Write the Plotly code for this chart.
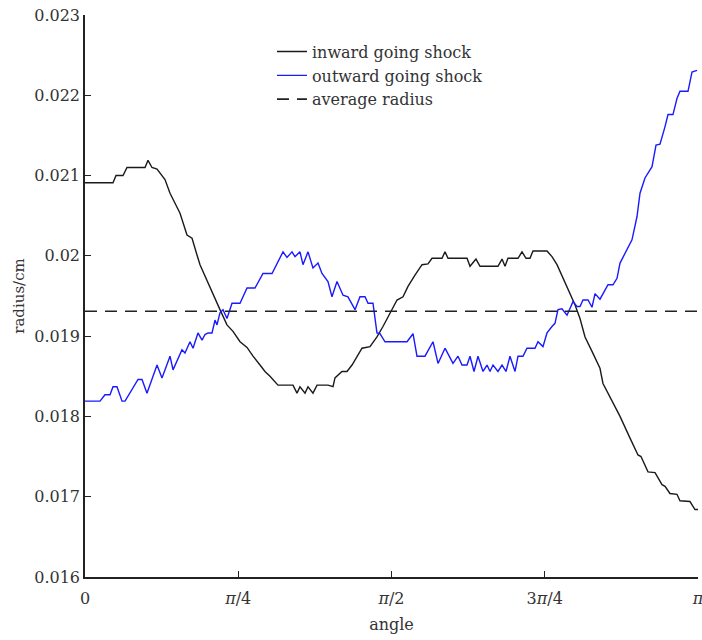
import numpy as np
import plotly.graph_objects as go

# angle given as a fraction of pi
inward_angle_frac = [0, 0.0457, 0.0506, 0.0620, 0.0685, 0.0979, 0.1028, 0.1093, 0.1175, 0.1256,
    0.1305, 0.1387, 0.1550, 0.1664, 0.1746, 0.1827, 0.1876, 0.2202, 0.2316, 0.2414,
    0.2529, 0.2643, 0.2741, 0.2855, 0.2936, 0.3018, 0.3148, 0.3393, 0.3458, 0.3507,
    0.3589, 0.3638, 0.3719, 0.3785, 0.3964, 0.4046, 0.4078, 0.4192, 0.4274, 0.4356,
    0.4437, 0.4519, 0.4649, 0.4763, 0.4861, 0.4976, 0.5090, 0.5188, 0.5269, 0.5383,
    0.5498, 0.5595, 0.5661, 0.5824, 0.5873, 0.5922, 0.6232, 0.6281, 0.6378, 0.6444,
    0.6737, 0.6803, 0.6852, 0.6900, 0.7064, 0.7129, 0.7194, 0.7259, 0.7308, 0.7537,
    0.7618, 0.7700, 0.7798, 0.7912, 0.7993, 0.8075, 0.8157, 0.8271, 0.8401, 0.8450,
    0.8564, 0.8728, 0.8891, 0.9021, 0.9070, 0.9184, 0.9299, 0.9413, 0.9462, 0.9543,
    0.9657, 0.9706, 0.9869, 0.9951, 1.0]
inward_radius = [0.02091, 0.02091, 0.02100, 0.02100, 0.02110, 0.02110, 0.02119, 0.02110, 0.02108, 0.02100,
    0.02095, 0.02078, 0.02053, 0.02026, 0.02022, 0.02001, 0.01989, 0.01933, 0.01914, 0.01906,
    0.01893, 0.01886, 0.01875, 0.01864, 0.01856, 0.01850, 0.01839, 0.01839, 0.01829, 0.01837,
    0.01829, 0.01837, 0.01829, 0.01839, 0.01839, 0.01837, 0.01848, 0.01856, 0.01856, 0.01864,
    0.01875, 0.01885, 0.01887, 0.01899, 0.01912, 0.01929, 0.01945, 0.01949, 0.01962, 0.01976,
    0.01989, 0.01990, 0.01997, 0.01997, 0.02005, 0.01997, 0.01997, 0.01987, 0.01996, 0.01987,
    0.01987, 0.01996, 0.01987, 0.01997, 0.01997, 0.02005, 0.01997, 0.01997, 0.02006, 0.02006,
    0.01999, 0.01989, 0.01972, 0.01953, 0.01939, 0.01922, 0.01899, 0.01881, 0.01860, 0.01841,
    0.01825, 0.01800, 0.01773, 0.01752, 0.01750, 0.01731, 0.01730, 0.01715, 0.01713, 0.01704,
    0.01703, 0.01695, 0.01694, 0.01684, 0.01684]

outward_angle_frac = [0, 0.0245, 0.0326, 0.0408, 0.0457, 0.0522, 0.0604, 0.0653, 0.0865, 0.0930,
    0.1011, 0.1175, 0.1256, 0.1387, 0.1436, 0.1582, 0.1631, 0.1713, 0.1762, 0.1843,
    0.1909, 0.1958, 0.2007, 0.2072, 0.2121, 0.2153, 0.2202, 0.2251, 0.2316, 0.2398,
    0.2529, 0.2643, 0.2773, 0.2904, 0.3051, 0.3230, 0.3295, 0.3377, 0.3426, 0.3507,
    0.3556, 0.3638, 0.3719, 0.3801, 0.3866, 0.3964, 0.4029, 0.4111, 0.4209, 0.4290,
    0.4405, 0.4486, 0.4568, 0.4617, 0.4698, 0.4763, 0.4812, 0.4894, 0.5253, 0.5351,
    0.5416, 0.5546, 0.5677, 0.5759, 0.5873, 0.6003, 0.6085, 0.6150, 0.6232, 0.6281,
    0.6346, 0.6411, 0.6493, 0.6558, 0.6607, 0.6656, 0.6737, 0.6803, 0.6868, 0.6933,
    0.7015, 0.7064, 0.7145, 0.7210, 0.7341, 0.7390, 0.7471, 0.7537, 0.7618, 0.7667,
    0.7716, 0.7781, 0.7863, 0.7961, 0.8026, 0.8075, 0.8124, 0.8206, 0.8271, 0.8320,
    0.8401, 0.8483, 0.8532, 0.8613, 0.8679, 0.8728, 0.8842, 0.8923, 0.9005, 0.9054,
    0.9135, 0.9250, 0.9315, 0.9380, 0.9462, 0.9511, 0.9592, 0.9657, 0.9706, 0.9837,
    0.9902, 0.9984]
outward_radius = [0.01819, 0.01819, 0.01827, 0.01827, 0.01837, 0.01837, 0.01819, 0.01819, 0.01846, 0.01846,
    0.01829, 0.01864, 0.01848, 0.01875, 0.01858, 0.01883, 0.01879, 0.01893, 0.01885, 0.01904,
    0.01895, 0.01902, 0.01904, 0.01904, 0.01920, 0.01914, 0.01929, 0.01933, 0.01922, 0.01941,
    0.01941, 0.01960, 0.01960, 0.01978, 0.01978, 0.02005, 0.01998, 0.02005, 0.01999, 0.02005,
    0.01989, 0.02005, 0.01985, 0.01991, 0.01978, 0.01968, 0.01949, 0.01968, 0.01951, 0.01949,
    0.01933, 0.01949, 0.01949, 0.01941, 0.01941, 0.01904, 0.01903, 0.01893, 0.01893, 0.01903,
    0.01875, 0.01875, 0.01893, 0.01866, 0.01885, 0.01866, 0.01875, 0.01864, 0.01864, 0.01875,
    0.01856, 0.01875, 0.01856, 0.01864, 0.01856, 0.01864, 0.01856, 0.01864, 0.01856, 0.01875,
    0.01856, 0.01875, 0.01875, 0.01885, 0.01885, 0.01893, 0.01887, 0.01904, 0.01912, 0.01916,
    0.01933, 0.01934, 0.01926, 0.01943, 0.01937, 0.01937, 0.01945, 0.01945, 0.01936, 0.01953,
    0.01946, 0.01958, 0.01964, 0.01964, 0.01972, 0.01991, 0.02007, 0.02020, 0.02049, 0.02078,
    0.02097, 0.02111, 0.02138, 0.02139, 0.02161, 0.02176, 0.02176, 0.02196, 0.02205, 0.02205,
    0.02229, 0.02231]

average_radius = 0.01931

x_tick_frac = [0, 0.25, 0.5, 0.75, 1.0]
x_tick_text = ["0", "<i>π</i>/4", "<i>π</i>/2", "3<i>π</i>/4", "<i>π</i>"]
y_tick_vals = [0.016, 0.017, 0.018, 0.019, 0.020, 0.021, 0.022, 0.023]
y_tick_text = ["0.016", "0.017", "0.018", "0.019", "0.02", "0.021", "0.022", "0.023"]

FONT = "DejaVu Serif"
TXT = "#333333"

fig = go.Figure()
fig.add_trace(go.Scatter(
    x=np.array(inward_angle_frac) * np.pi, y=inward_radius, mode="lines",
    name="inward going shock", line=dict(color="#1a1a1a", width=1.4)))
fig.add_trace(go.Scatter(
    x=np.array(outward_angle_frac) * np.pi, y=outward_radius, mode="lines",
    name="outward going shock", line=dict(color="#1a1aff", width=1.4)))
fig.add_trace(go.Scatter(
    x=[0, np.pi], y=[average_radius, average_radius], mode="lines",
    name="average radius", line=dict(color="#222222", width=1.6, dash="12px,8px")))

fig.update_layout(
    width=702, height=640,
    margin=dict(l=85, r=4, t=15, b=63),
    paper_bgcolor="white", plot_bgcolor="white",
    font=dict(family=FONT, size=16, color=TXT),
    showlegend=True,
    legend=dict(x=0.305, y=0.965, xanchor="left", yanchor="top",
                bgcolor="rgba(0,0,0,0)", font=dict(family=FONT, size=16, color=TXT),
                tracegroupgap=0, itemwidth=30),
    xaxis=dict(range=[0, np.pi], tickvals=[v * np.pi for v in x_tick_frac], ticktext=x_tick_text,
               showgrid=False, zeroline=False, showline=True, linecolor="#222222", linewidth=1.5,
               ticks="inside", ticklen=6, tickwidth=1.2, tickcolor="#222222",
               ticklabelstandoff=6, ticklabeloverflow="allow", automargin=False,
               tickfont=dict(family=FONT, size=16, color=TXT),
               title=dict(text="angle", standoff=12, font=dict(family=FONT, size=16, color=TXT))),
    yaxis=dict(range=[0.016, 0.023], tickvals=y_tick_vals, ticktext=y_tick_text,
               showgrid=False, zeroline=False, showline=True, linecolor="#222222", linewidth=1.5,
               ticks="inside", ticklen=6, tickwidth=1.2, tickcolor="#222222", automargin=False,
               tickfont=dict(family=FONT, size=16, color=TXT),
               title=dict(text="radius/cm", standoff=6, font=dict(family=FONT, size=15, color=TXT))),
)

fig.write_html("out.html")
